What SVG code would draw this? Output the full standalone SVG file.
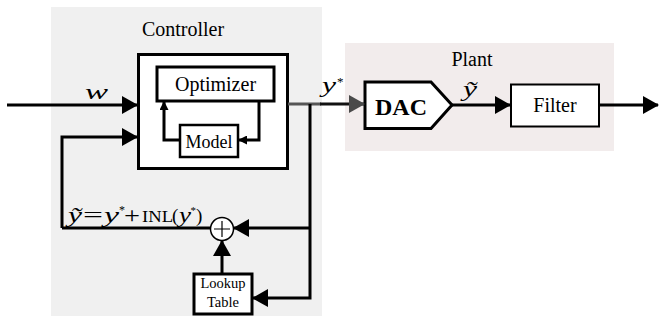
<svg xmlns="http://www.w3.org/2000/svg" width="659" height="325" viewBox="0 0 659 325">
<style>
.t{font-family:"Liberation Serif","Times New Roman",serif;fill:#000}
.m{font-family:"Liberation Serif","Times New Roman",serif;font-style:italic;fill:#000}
.box{fill:#fff;stroke:#000}
.ln{fill:none;stroke:#000;stroke-width:3}
</style>
<defs>
<marker id="ah" viewBox="0 0 16 18" refX="15" refY="9" markerWidth="16" markerHeight="18" markerUnits="userSpaceOnUse" orient="auto"><path d="M0,0 L16,9 L0,18 z" fill="#000"/></marker>
<marker id="ahg" viewBox="0 0 16 18" refX="15" refY="9" markerWidth="16" markerHeight="18" markerUnits="userSpaceOnUse" orient="auto"><path d="M0,0 L16,9 L0,18 z" fill="#4a4a4a"/></marker>
<marker id="as" viewBox="0 0 9 9" refX="8" refY="4.5" markerWidth="9" markerHeight="9" markerUnits="userSpaceOnUse" orient="auto"><path d="M0,0 L9,4.5 L0,9 z" fill="#000"/></marker>
</defs>
<g id="backgrounds">
<rect x="51" y="7" width="271" height="309" fill="#f0f0f0"/>
<rect x="345" y="43" width="269" height="108" fill="#f2ecec"/>
<text class="t" x="183" y="36" font-size="20" text-anchor="middle">Controller</text>
<text class="t" x="472" y="66" font-size="20" text-anchor="middle">Plant</text>
</g>
<g id="controller">
<rect class="box" x="138.5" y="54.5" width="149" height="114" stroke-width="3"/>
</g>
<g id="optimizer">
<rect class="box" x="157" y="67" width="117" height="34" stroke-width="3"/>
<text class="t" x="215.5" y="90.5" font-size="20" text-anchor="middle">Optimizer</text>
</g>
<g id="model">
<rect class="box" x="180" y="125" width="58" height="32" stroke-width="2.5"/>
<text class="t" x="209" y="148" font-size="18" text-anchor="middle">Model</text>
</g>
<g id="lookup">
<rect class="box" x="194" y="274" width="58" height="40" stroke-width="3"/>
<text class="t" x="223" y="288" font-size="14.5" text-anchor="middle">Lookup</text>
<text class="t" x="223" y="306.5" font-size="14.5" text-anchor="middle">Table</text>
</g>
<g id="sum">
<circle cx="222" cy="229" r="11.5" fill="#fff" stroke="#000" stroke-width="1.5"/>
<path d="M214,229 H230 M222,221 V237" stroke="#000" stroke-width="1.2"/>
</g>
<g id="dac">
<path d="M365,82 H431 L452,105 L431,128.5 H365 Z" fill="#fff" stroke="#000" stroke-width="3"/>
<text class="t" x="401" y="115" font-size="24" font-weight="bold" text-anchor="middle">DAC</text>
</g>
<g id="filter">
<rect class="box" x="511" y="84.5" width="88" height="42" stroke-width="2"/>
<text class="t" x="555" y="112" font-size="20" text-anchor="middle">Filter</text>
</g>
<g id="connectors">
<path class="ln" d="M62,228 V137 H137" marker-end="url(#ah)"/>
<path class="ln" d="M7,105 H137" marker-end="url(#ah)"/>
<path d="M288,104 H321" stroke="#555" stroke-width="3" fill="none"/>
<path d="M320,104 H364" stroke="#111" stroke-width="3" fill="none" marker-end="url(#ahg)"/>
<path class="ln" d="M310,104 V298 H253" marker-end="url(#ah)"/>
<path class="ln" d="M311,228 H234" marker-end="url(#ah)"/>
<path class="ln" d="M62,228 H210.5"/>
<path class="ln" d="M222,274 V241" marker-end="url(#ah)"/>
<path class="ln" d="M452,105 H510" marker-end="url(#ah)"/>
<path class="ln" d="M599,105 H658" marker-end="url(#ah)"/>
<path class="ln" d="M259,102 V140 H239" marker-end="url(#as)"/>
<path class="ln" d="M179,140 H164 V102" marker-end="url(#as)"/>
</g>
<g id="labels">
<text class="m" x="85" y="99" font-size="22" textLength="23" lengthAdjust="spacingAndGlyphs">w</text>
<text class="m" x="322" y="92" font-size="22" textLength="14" lengthAdjust="spacingAndGlyphs">y</text>
<text class="t" x="337" y="86" font-size="13">*</text>
<text class="m" x="463" y="96" font-size="22" textLength="14" lengthAdjust="spacingAndGlyphs">ỹ</text>
<text class="m" x="68" y="222" font-size="22" textLength="14" lengthAdjust="spacingAndGlyphs">ỹ</text>
<text class="t" x="83" y="222" font-size="22" textLength="20" lengthAdjust="spacingAndGlyphs">=</text>
<text class="m" x="104" y="222" font-size="22" textLength="15" lengthAdjust="spacingAndGlyphs">y</text>
<text class="t" x="119" y="214" font-size="12">*</text>
<text class="t" x="124" y="223" font-size="24" textLength="16" lengthAdjust="spacingAndGlyphs">+</text>
<text class="t" x="142" y="222" font-size="17" textLength="31" lengthAdjust="spacingAndGlyphs">INL</text>
<text class="t" x="172" y="222" font-size="19">(</text>
<text class="m" x="179" y="222" font-size="20" textLength="12" lengthAdjust="spacingAndGlyphs">y</text>
<text class="t" x="190.5" y="214" font-size="11">*</text>
<text class="t" x="196" y="222" font-size="19">)</text>
</g>
</svg>
